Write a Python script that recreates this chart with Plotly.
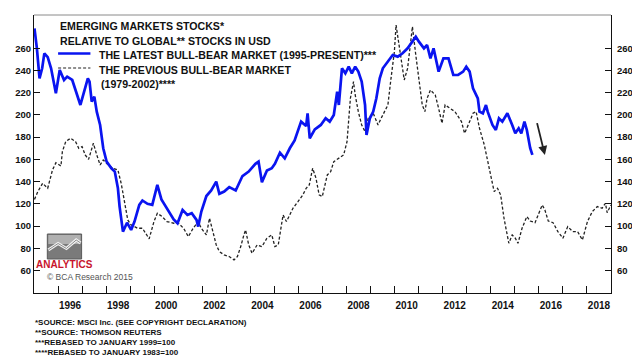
import plotly.graph_objects as go

# ---------------- data ----------------
latest_x = [1995.02, 1995.12, 1995.23, 1995.34, 1995.43, 1995.57, 1995.71, 1995.91, 1996.07, 1996.25,
            1996.38, 1996.59, 1996.93, 1997.07, 1997.24, 1997.31, 1997.40, 1997.51, 1997.61, 1997.75,
            1997.88, 1998.02, 1998.22, 1998.36, 1998.49, 1998.56, 1998.70, 1998.87, 1999.04, 1999.18,
            1999.38, 1999.51, 1999.72, 1999.92, 2000.13, 2000.30, 2000.55, 2000.81, 2000.97, 2001.18,
            2001.38, 2001.56, 2001.76, 2001.83, 2001.96, 2002.17, 2002.37, 2002.58, 2002.71, 2002.91,
            2003.12, 2003.39, 2003.67, 2003.93, 2004.21, 2004.34, 2004.48, 2004.69, 2004.89, 2005.02,
            2005.23, 2005.43, 2005.64, 2005.84, 2006.11, 2006.32, 2006.38, 2006.47, 2006.68, 2006.93,
            2007.13, 2007.30, 2007.47, 2007.61, 2007.68, 2007.81, 2007.95, 2008.09, 2008.22, 2008.36,
            2008.49, 2008.63, 2008.77, 2008.83, 2008.97, 2009.11, 2009.24, 2009.38, 2009.51, 2009.72,
            2009.92, 2010.13, 2010.33, 2010.54, 2010.74, 2010.88, 2011.01, 2011.22, 2011.35, 2011.49,
            2011.62, 2011.83, 2012.03, 2012.24, 2012.44, 2012.64, 2012.85, 2012.98, 2013.12, 2013.26,
            2013.46, 2013.53, 2013.67, 2013.80, 2013.87, 2014.07, 2014.21, 2014.34, 2014.48, 2014.69,
            2014.89, 2015.02, 2015.16, 2015.27, 2015.40, 2015.50, 2015.64, 2015.73]
latest_y = [278, 260, 233, 242, 255.5, 252, 242, 219.5, 240.5, 231.5,
            234.5, 231.5, 209, 219.5, 233, 230, 212, 216.5, 203, 191,
            170, 158, 152, 149, 134, 117.5, 95, 103, 96.5, 104,
            119, 123, 120, 119, 137, 124, 115, 106, 102.5, 114.5,
            110, 111.5, 105.5, 99.5, 113, 127, 132, 140, 129, 131,
            135, 132, 145, 149, 156, 158, 139.5, 150, 152, 156,
            166, 161, 170, 177, 194, 190, 201.5, 179, 187, 191,
            197, 194, 200, 221, 209, 242, 237.5, 243.5, 237.5, 243.5,
            239, 230, 209, 182, 197, 203, 215, 233, 242, 248,
            254, 252.5, 255.5, 260, 266, 270.5, 266, 260, 263, 251,
            260, 239, 251, 251, 236, 236, 239, 243.5, 239, 224,
            215, 203, 201.5, 209, 203, 191, 186.5, 197, 194, 201.5,
            191, 183.5, 188, 183.5, 194, 186.5, 170, 164]

previous_x = [1995.02, 1995.16, 1995.36, 1995.57, 1995.77, 1995.91, 1996.12, 1996.18, 1996.32, 1996.52,
              1996.73, 1996.86, 1997.00, 1997.13, 1997.27, 1997.47, 1997.61, 1997.75, 1997.88, 1998.09,
              1998.29, 1998.49, 1998.63, 1998.77, 1998.90, 1999.04, 1999.31, 1999.51, 1999.79, 1999.99,
              2000.13, 2000.33, 2000.53, 2000.81, 2001.01, 2001.22, 2001.42, 2001.62, 2001.83, 2001.96,
              2002.17, 2002.30, 2002.44, 2002.58, 2002.71, 2002.91, 2003.12, 2003.32, 2003.46, 2003.60,
              2003.73, 2003.80, 2003.93, 2004.07, 2004.28, 2004.48, 2004.69, 2004.89, 2005.02, 2005.16,
              2005.36, 2005.50, 2005.64, 2005.77, 2005.98, 2006.18, 2006.32, 2006.45, 2006.59, 2006.73,
              2006.86, 2006.99, 2007.20, 2007.34, 2007.47, 2007.68, 2007.88, 2008.02, 2008.16, 2008.29,
              2008.36, 2008.49, 2008.63, 2008.77, 2008.90, 2009.11, 2009.31, 2009.44, 2009.58, 2009.72,
              2009.85, 2009.99, 2010.06, 2010.17, 2010.26, 2010.40, 2010.54, 2010.63, 2010.74, 2010.88,
              2011.01, 2011.15, 2011.26, 2011.35, 2011.49, 2011.69, 2011.83, 2011.97, 2012.10, 2012.31,
              2012.51, 2012.78, 2012.91, 2013.12, 2013.26, 2013.39, 2013.53, 2013.73, 2013.87, 2014.00,
              2014.14, 2014.28, 2014.41, 2014.55, 2014.69, 2014.75, 2014.89, 2015.02, 2015.13, 2015.30,
              2015.50, 2015.64, 2015.84, 2015.98, 2016.14, 2016.25, 2016.39, 2016.59, 2016.79, 2017.00,
              2017.20, 2017.41, 2017.61, 2017.81, 2018.02, 2018.22, 2018.43, 2018.63, 2018.77, 2018.84,
              2019.00]
previous_y = [124, 131, 138.5, 134, 150.5, 157, 154, 167, 176, 179,
              176, 170, 171.5, 164, 160, 174.5, 164, 155, 159.5, 155,
              152, 150.5, 138, 120, 105.5, 101, 98, 98, 88.5, 104,
              111.5, 108.5, 104, 102.5, 102.5, 98, 90.5, 98, 104, 98,
              92, 107, 95, 83, 77, 74, 72.5, 69.5, 72.5, 81.5,
              92, 96.5, 83, 75.5, 83, 81.5, 89, 92, 81.5, 83,
              110, 104, 110, 116, 122, 128, 134, 137, 152, 143,
              128, 126.5, 146, 149, 158, 161, 164, 176, 215, 230,
              218, 203, 191, 185, 197, 201.5, 191, 197, 203, 209,
              233, 257, 281, 266, 251, 231.5, 242, 257, 279.5, 254,
              230, 209, 203, 215, 222.5, 218, 206, 192.5, 209, 206,
              203, 194, 183.5, 194, 201.5, 203, 188, 173, 158, 143,
              131, 134, 128, 107, 92, 84.5, 92, 89, 84.5, 98,
              108.5, 104.5, 103, 110, 119, 114.5, 104.5, 103, 95, 89,
              99.5, 95, 95, 87.5, 104, 113, 117.5, 116, 120.5, 112,
              119]

y_ticks = [60, 80, 100, 120, 140, 160, 180, 200, 220, 240, 260]
year_labels = ["1996", "1998", "2000", "2002", "2004", "2006", "2008", "2010",
               "2012", "2014", "2016", "2018"]
year_ticks = list(range(1996, 2019))

title_lines = ["EMERGING MARKETS STOCKS*", "RELATIVE TO GLOBAL** STOCKS IN USD"]
legend_latest = "THE LATEST BULL-BEAR MARKET (1995-PRESENT)***"
legend_previous = ["THE PREVIOUS BULL-BEAR MARKET", "(1979-2002)****"]
footnotes = ["*SOURCE: MSCI Inc. (SEE COPYRIGHT DECLARATION)",
             "**SOURCE: THOMSON REUTERS",
             "***REBASED TO JANUARY 1999=100",
             "****REBASED TO JANUARY 1983=100"]

# ---------------- layout helpers ----------------
# the page body adds an 8px offset; figure is sized so it ends at the window edge
OFF = 8
W, H = 640 - OFF, 360 - OFF
PLOT_L, PLOT_R, PLOT_T, PLOT_B = 29.4, 618.5, 15, 293   # page pixels
ML = PLOT_L - OFF
MT = PLOT_T - OFF
MR = W - (PLOT_R - OFF)
MB = H - (PLOT_B - OFF)
PW, PH = PLOT_R - PLOT_L, PLOT_B - PLOT_T


def fx(px):
    return (px - PLOT_L) / PW


def fy(py):
    return (PLOT_B - py) / PH


FONT = "Liberation Sans, Arial, sans-serif"
NARROW = "Liberation Sans Narrow, Liberation Sans, Arial, sans-serif"
BLUE = "#0a14f0"

fig = go.Figure()
fig.add_trace(go.Scatter(x=previous_x, y=previous_y, mode="lines",
                         line=dict(color="#222222", width=1.3, dash="3px,2px"),
                         showlegend=False, hoverinfo="skip"))
fig.add_trace(go.Scatter(x=latest_x, y=latest_y, mode="lines",
                         line=dict(color=BLUE, width=2.7),
                         showlegend=False, hoverinfo="skip"))
fig.add_trace(go.Scatter(x=[None], y=[None], yaxis="y2", showlegend=False,
                         hoverinfo="skip"))

yr = [39.7, 290]
fig.update_layout(
    width=W, height=H,
    margin=dict(l=ML, r=MR, t=MT, b=MB, pad=0),
    paper_bgcolor="white", plot_bgcolor="white",
    font=dict(family=FONT, color="#111111"),
    xaxis=dict(range=[1995, 2019], showgrid=False, zeroline=False,
               tickvals=[int(s) + 0.5 for s in year_labels], ticktext=year_labels,
               ticks="", showline=True, linecolor="#111111", linewidth=1,
               ticklabelstandoff=3,
               tickfont=dict(size=10, weight=700, family=FONT),
               minor=dict(tickvals=year_ticks, ticks="inside", ticklen=7,
                          tickcolor="#111111", tickwidth=1)),
    yaxis=dict(range=yr, showgrid=False, zeroline=False, tickvals=y_ticks,
               ticks="inside", ticklen=6, tickcolor="#111111",
               showline=True, linecolor="#111111", linewidth=1,
               tickfont=dict(size=9.5, weight=700, family=FONT)),
    yaxis2=dict(range=yr, overlaying="y", side="right", showgrid=False,
                zeroline=False, tickvals=y_ticks, ticks="inside", ticklen=6,
                tickcolor="#111111", showline=True, linecolor="#111111",
                linewidth=1, ticklabelstandoff=3,
                tickfont=dict(size=9.5, weight=700, family=FONT)),
)

shapes = []
# top border (light)
shapes.append(dict(type="line", xref="paper", yref="paper", x0=0, x1=1, y0=1, y1=1,
                   line=dict(color="#8a8a8a", width=1)))
# legend samples
shapes.append(dict(type="line", xref="paper", yref="paper", x0=fx(54), x1=fx(87),
                   y0=fy(53.5), y1=fy(53.5), line=dict(color=BLUE, width=2.7)))
shapes.append(dict(type="line", xref="paper", yref="paper", x0=fx(54), x1=fx(87),
                   y0=fy(68), y1=fy(68), line=dict(color="#222222", width=1.2, dash="3px,2px")))
# logo
shapes.append(dict(type="rect", xref="paper", yref="paper", x0=fx(43), x1=fx(78),
                   y0=fy(259), y1=fy(234), fillcolor="#7a7a7a",
                   line=dict(color="#5a5a5a", width=1)))
shapes.append(dict(type="rect", xref="paper", yref="paper", x0=fx(44), x1=fx(77),
                   y0=fy(244), y1=fy(235), fillcolor="#b0b0b0", line=dict(width=0)))
zig = [(44, 250), (54, 243.5), (62.5, 248.5), (72.5, 240), (77, 243)]
path = "M " + " L ".join(f"{fx(a):.5f},{fy(b):.5f}" for a, b in zig)
shapes.append(dict(type="path", xref="paper", yref="paper", path=path,
                   line=dict(color="#f2f2f2", width=3)))
shapes.append(dict(type="path", xref="paper", yref="paper", path=path,
                   line=dict(color="#8c8c8c", width=1)))
fig.update_layout(shapes=shapes)

ann = []
for i, t in enumerate(title_lines):
    ann.append(dict(x=fx(54), y=fy(26 + 15 * i), text=t))
ann.append(dict(x=fx(94), y=fy(55), text=legend_latest))
ann.append(dict(x=fx(94), y=fy(70), text=legend_previous[0]))
ann.append(dict(x=fx(96), y=fy(84), text=legend_previous[1]))
for a in ann:
    a.update(xref="paper", yref="paper", xanchor="left", yanchor="middle",
             showarrow=False, font=dict(size=10.6, weight=700, family=FONT, color="#111111"))
for i, t in enumerate(footnotes):
    ann.append(dict(x=fx(28), y=fy(322 + 10.3 * i), text=t, xref="paper", yref="paper",
                    xanchor="left", yanchor="middle", showarrow=False,
                    font=dict(size=8, weight=700, family=NARROW, color="#111111")))
ann.append(dict(x=fx(60.5), y=fy(264.5), text="ANALYTICS", xref="paper", yref="paper",
                xanchor="center", yanchor="middle", showarrow=False,
                font=dict(size=10, weight=700, family=NARROW, color="#c8142c")))
ann.append(dict(x=fx(41), y=fy(277), text="© BCA Research 2015", xref="paper", yref="paper",
                xanchor="left", yanchor="middle", showarrow=False,
                font=dict(size=8.5, family=FONT, color="#555555")))
# downward arrow
ann.append(dict(x=2016.25, y=164, ax=2015.91, ay=194, xref="x", yref="y",
                axref="x", ayref="y", showarrow=True, arrowhead=2, arrowsize=1,
                arrowwidth=1.8, arrowcolor="#222222", text=""))
fig.update_layout(annotations=ann)

fig.write_html("out.html")
